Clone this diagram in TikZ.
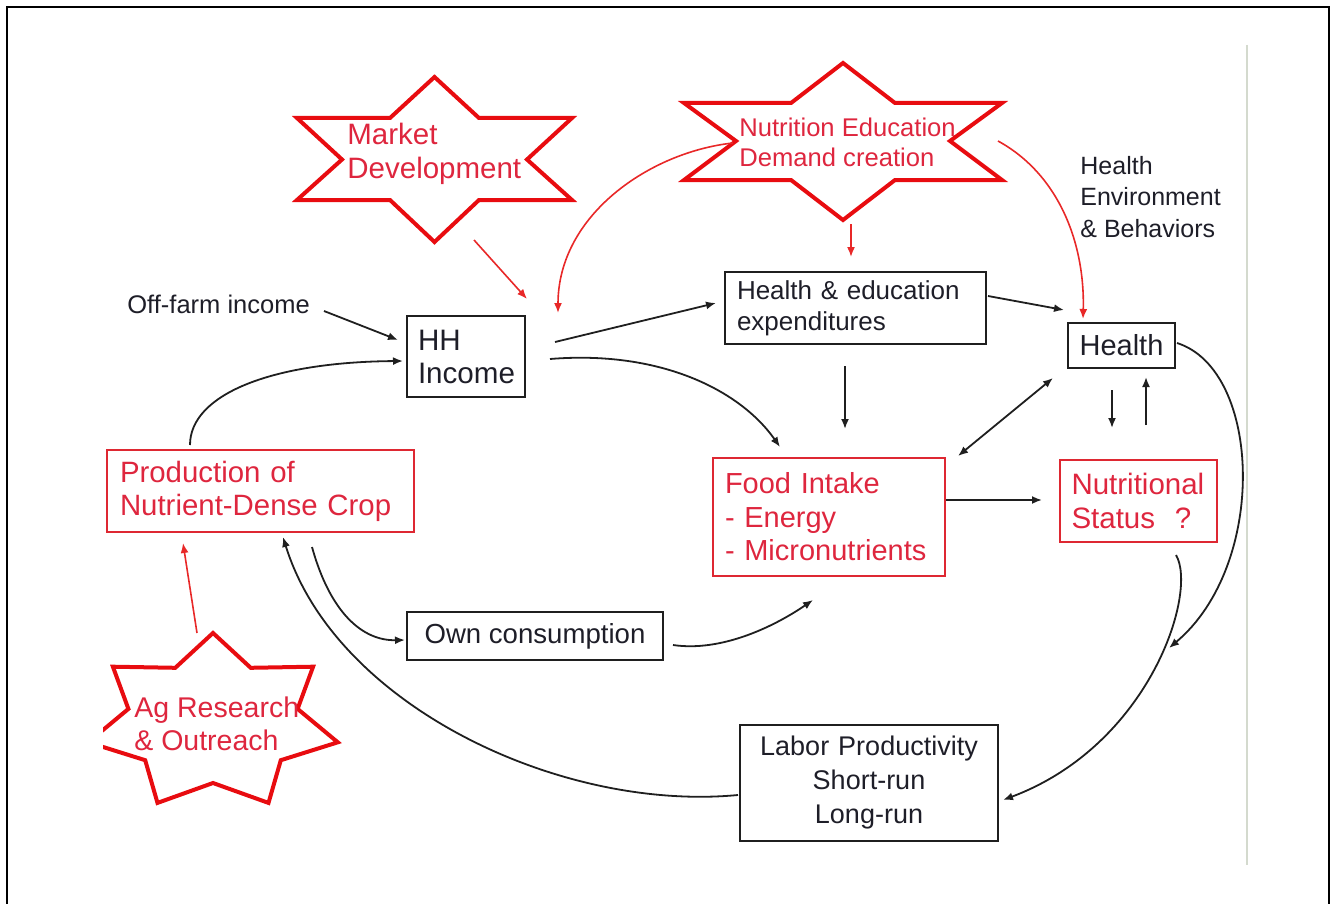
\documentclass[tikz,border=0pt]{standalone}
\usepackage{fontspec}
\setmainfont{Liberation Sans}
\usetikzlibrary{arrows.meta}
\definecolor{txtred}{RGB}{222,38,62}
\definecolor{starred}{RGB}{232,12,16}
\definecolor{boxred}{RGB}{222,40,50}
\definecolor{arrred}{RGB}{232,40,40}
\definecolor{txtblk}{RGB}{30,30,40}
\definecolor{slidegrey}{RGB}{212,218,206}
\newcommand{\myfs}[2]{\fontsize{#1}{#2}\selectfont}
\tikzset{
  bx/.style={draw=black!88, line width=1.2pt, rectangle, inner ysep=0pt, text=txtblk},
  rbx/.style={draw=boxred, line width=1pt, rectangle, inner ysep=0pt, text=txtred},
  arr/.style={-{Latex[length=5pt,width=4pt]}, line width=0.9pt, draw=black!88},
  darr/.style={{Latex[length=5pt,width=4pt]}-{Latex[length=5pt,width=4pt]}, line width=0.9pt, draw=black!88},
  rarr/.style={-{Latex[length=5pt,width=4pt]}, line width=0.8pt, draw=arrred},
  starline/.style={draw=starred, line width=2pt, line join=miter},
  lbl/.style={anchor=west, align=left, inner sep=0pt},
}
\begin{document}
\begin{tikzpicture}[x=0.5pt,y=-0.5pt]
\useasboundingbox (0,0) rectangle (1333,904);
% outer frame
\draw[line width=1.2pt, black] (7,904) -- (7,7) -- (1329,7) -- (1329,904);
% slide edge
\draw[line width=1pt, slidegrey] (1246.5,45) -- (1246.5,865);

% ---- stars ----
\draw[starline] (434.5,77) -- (479,118) -- (572,118) -- (527,159.5) -- (572,200) -- (479,200)
  -- (434.5,242) -- (390,200) -- (297,200) -- (342,159.5) -- (297,118) -- (390,118) -- cycle;
\node[lbl, text=txtred, font=\myfs{14.75}{17}] (md) at (347,154) {Market\\Development};

\draw[starline] (843,63) -- (895,103) -- (1002,103) -- (950,141) -- (1002,180) -- (895,180)
  -- (843,220) -- (791,180) -- (684,180) -- (736,141) -- (684,103) -- (791,103) -- cycle;
\node[lbl, text=txtred, font=\myfs{12.8}{15}] (ne) at (739,142) {Nutrition Education\\Demand creation};

\begin{scope}
\clip (103,600) rectangle (420,840);
\draw[starline] (213,633) -- (175.3,667.8) -- (112.9,666.7) -- (128.4,708.9) -- (88.2,742.3)
  -- (145.2,760.2) -- (157.5,802.9) -- (213,783) -- (268.5,802.9) -- (280.8,760.2)
  -- (337.8,742.3) -- (297.6,708.9) -- (313.1,666.7) -- (250.7,667.8) -- cycle;
\end{scope}
\node[lbl, text=txtred, font=\myfs{14.25}{16.5}] (ag) at (134,724) {Ag Research\\\& Outreach};

% ---- free labels ----
\node[lbl, text=txtblk, font=\myfs{12.5}{15.75}] (heb) at (1080,197) {Health\\Environment\\\& Behaviors};
\node[lbl, text=txtblk, font=\myfs{12.75}{15}] (off) at (127,304) {Off-farm income};

% ---- boxes ----
\node[bx, minimum width=59pt, minimum height=40.5pt, text width=48pt, inner xsep=5.5pt,
      align=left, font=\myfs{14.8}{16.5}] (hh) at (466,356.5) {HH\\Income};
\node[bx, minimum width=130.5pt, minimum height=36pt, text width=118.5pt, inner xsep=6pt,
      align=left, font=\myfs{13}{15.5}] (he) at (855.5,308) {Health \& education\\expenditures};
\node[bx, minimum width=53.5pt, minimum height=22.5pt, inner xsep=0pt,
      font=\myfs{14.5}{16}] (health) at (1121.5,345.5) {Health};
\node[rbx, minimum width=153.5pt, minimum height=41pt, text width=140.5pt, inner xsep=6.5pt,
      align=left, font=\myfs{14.7}{16.5}] (prod) at (260.5,491) {Production of\\Nutrient-Dense Crop};
\node[rbx, minimum width=116pt, minimum height=59pt, text width=104pt, inner xsep=6pt,
      align=left, font=\myfs{14.5}{16.75}] (food) at (829,517) {Food Intake\\- Energy\\- Micronutrients};
\node[rbx, minimum width=78.5pt, minimum height=41pt, text width=67pt, inner xsep=5.75pt,
      align=left, font=\myfs{14.75}{17}] (nut) at (1138.5,501) {Nutritional\\Status\ \ ?};
\node[bx, minimum width=128pt, minimum height=24pt, inner xsep=0pt,
      font=\myfs{13.8}{16}] (own) at (535,636) {Own consumption};
\node[bx, minimum width=129pt, minimum height=58pt, text width=125pt, inner xsep=2pt,
      align=center, font=\myfs{13.5}{17}] (lab) at (869,783) {Labor Productivity\\Short-run\\Long-run};

% ---- connector end points ----
\coordinate (mdS) at (474,240);   \coordinate (hhN1) at (527,299);
\coordinate (neW) at (733,143);   \coordinate (hhN2) at (558,313);
\coordinate (neS) at (851,224);   \coordinate (heN) at (851,257);
\coordinate (neE) at (998,141);   \coordinate (healthN) at (1083,319);
\coordinate (offE) at (324,311);  \coordinate (hhW1) at (398,340);
\coordinate (prodN) at (190,445); \coordinate (hhW2) at (403,361);
\coordinate (hhE1) at (555,342);  \coordinate (heW) at (716,303);
\coordinate (hhE2) at (550,359);  \coordinate (foodN) at (780,447);
\coordinate (heE) at (988,296);   \coordinate (healthW) at (1064,310);
\coordinate (heS) at (845,366);   \coordinate (foodN2) at (845,429);
\coordinate (foodNE) at (958,456); \coordinate (healthSW) at (1053,378);
\coordinate (hs1) at (1112,390);  \coordinate (nn1) at (1112,428);
\coordinate (nn2) at (1146,425);  \coordinate (hs2) at (1146,377);
\coordinate (foodE) at (946,500); \coordinate (nutW) at (1042,500);
\coordinate (healthE) at (1177,343); \coordinate (labR1) at (1169,648);
\coordinate (nutS) at (1176,555); \coordinate (labE) at (1003,800);
\coordinate (labW) at (738,795);  \coordinate (prodS1) at (283,537);
\coordinate (prodS2) at (312,547); \coordinate (ownW) at (405,640);
\coordinate (ownE) at (673,645);  \coordinate (foodS) at (813,600);
\coordinate (agN) at (197,633);   \coordinate (prodS3) at (183,543);

% ---- red connectors ----
\draw[rarr] (mdS) -- (hhN1);
\draw[rarr] (neW) .. controls (650,152) and (558,215) .. (hhN2);
\draw[rarr] (neS) -- (heN);
\draw[rarr] (neE) .. controls (1060,175) and (1085,245) .. (healthN);
\draw[rarr] (agN) -- (prodS3);

% ---- black connectors ----
\draw[arr] (offE) -- (hhW1);
\draw[arr] (prodN) .. controls (190,395) and (270,362) .. (hhW2);
\draw[arr] (hhE1) -- (heW);
\draw[arr] (hhE2) .. controls (660,350) and (740,390) .. (foodN);
\draw[arr] (heE) -- (healthW);
\draw[arr] (heS) -- (foodN2);
\draw[darr] (foodNE) -- (healthSW);
\draw[arr] (hs1) -- (nn1);
\draw[arr] (nn2) -- (hs2);
\draw[arr] (foodE) -- (nutW);
\draw[arr] (healthE) .. controls (1262,370) and (1268,565) .. (labR1);
\draw[arr] (nutS) .. controls (1198,592) and (1150,745) .. (labE);
\draw[arr] (labW) .. controls (560,812) and (335,705) .. (prodS1);
\draw[arr] (prodS2) .. controls (330,612) and (362,641) .. (ownW);
\draw[arr] (ownE) .. controls (720,652) and (772,628) .. (foodS);
\end{tikzpicture}
\end{document}
